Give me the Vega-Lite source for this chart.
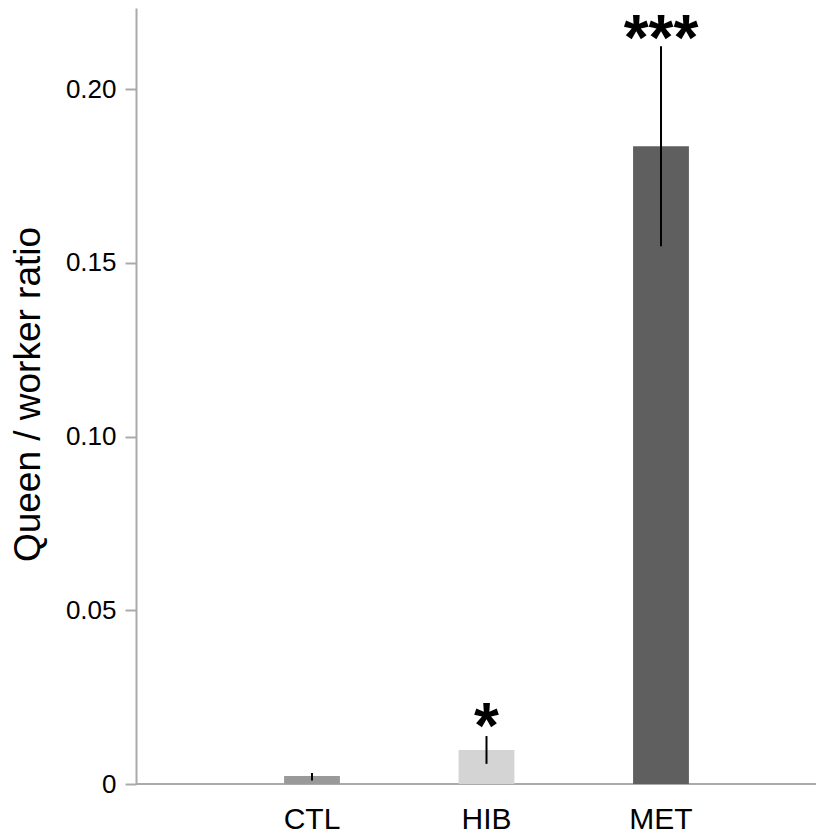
{
  "$schema": "https://vega.github.io/schema/vega-lite/v6.json",
  "width": 680,
  "height": 776,
  "autosize": "none",
  "padding": {"left": 136, "top": 8, "right": 4, "bottom": 52},
  "background": "white",
  "config": {"view": {"stroke": null}, "font": "Liberation Sans"},
  "data": {"values": [
    {"group": "CTL", "ratio": 0.0023, "lo": 0.0010, "hi": 0.0032, "star": "", "starY": 0.005},
    {"group": "HIB", "ratio": 0.0098, "lo": 0.0058, "hi": 0.0138, "star": "*", "starY": 0.0105},
    {"group": "MET", "ratio": 0.1836, "lo": 0.1548, "hi": 0.2124, "star": "***", "starY": 0.2085}
  ]},
  "layer": [
    {
      "mark": {"type": "rule", "color": "#aaaaaa", "strokeWidth": 2},
      "encoding": {
        "y": {"datum": 0, "type": "quantitative"}
      }
    },
    {
      "mark": {"type": "bar"},
      "encoding": {
        "x": {
          "field": "group", "type": "nominal", "sort": null,
          "scale": {"range": [88.75, 612.25], "paddingInner": 0.68, "paddingOuter": 0.34},
          "axis": {"title": null, "labelAngle": 0, "labelFontSize": 30, "labelColor": "black", "ticks": false, "tickSize": 0, "labelPadding": 20, "domain": false}
        },
        "y": {
          "field": "ratio", "type": "quantitative",
          "scale": {"domain": [0, 0.2234], "nice": false},
          "axis": {
            "title": "Queen / worker ratio", "titleFontSize": 37, "titleFontWeight": "normal", "titleColor": "black",
            "titleX": -108, "titleY": 386, "titleAngle": -90, "titleBaseline": "middle", "titleAlign": "center",
            "values": [0, 0.05, 0.1, 0.15, 0.2],
            "labelExpr": "datum.value == 0 ? '0' : format(datum.value, '.2f')",
            "labelFontSize": 26, "labelColor": "black", "labelPadding": 9,
            "tickSize": 11, "tickColor": "#aaaaaa", "tickWidth": 2,
            "domainColor": "#aaaaaa", "domainWidth": 2, "grid": false
          }
        },
        "color": {
          "field": "group", "type": "nominal",
          "scale": {"domain": ["CTL", "HIB", "MET"], "range": ["#999999", "#d4d4d4", "#5f5f5f"]},
          "legend": null
        }
      }
    },
    {
      "mark": {"type": "rule", "color": "black", "strokeWidth": 2},
      "encoding": {
        "x": {"field": "group", "type": "nominal", "sort": null},
        "y": {"field": "lo", "type": "quantitative"},
        "y2": {"field": "hi"}
      }
    },
    {
      "mark": {"type": "text", "fontSize": 64, "fontWeight": "bold", "baseline": "alphabetic", "align": "center", "color": "black"},
      "encoding": {
        "x": {"field": "group", "type": "nominal", "sort": null},
        "y": {"field": "starY", "type": "quantitative"},
        "text": {"field": "star"}
      }
    }
  ]
}
